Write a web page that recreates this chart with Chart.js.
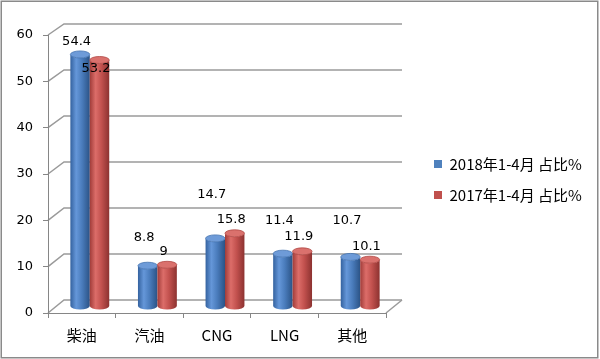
<!DOCTYPE html>
<html><head><meta charset="utf-8">
<script src="https://cdn.jsdelivr.net/npm/chart.js@4"></script>
<style>html,body{margin:0;padding:0;background:#fff;}#wrap{width:600px;height:359px;}</style>
</head><body><div id="wrap"><canvas id="c" width="600" height="359"></canvas></div>
<script>
const categories = ['柴油', '汽油', 'CNG', 'LNG', '其他'];
const series2018 = [54.4, 8.8, 14.7, 11.4, 10.7];
const series2017 = [53.2, 9, 15.8, 11.9, 10.1];
const seriesNames = ['2018年1-4月 占比%', '2017年1-4月 占比%'];
const yTicks = [0, 10, 20, 30, 40, 50, 60];
const labelLift2018 = [19, 35, 50, 40, 43];
const labelLift2017 = [-2, 20, 20, 21, 20];

const DEPTH_X = 16, DEPTH_Y = 13;
const palettes = [
  {edge:'#34629f', light:'#6597d9', mid:'#4a7cbc', dark:'#2b5386', top:'#6e9bd8', topEdge:'#4272b0'},
  {edge:'#a13c39', light:'#dc6d69', mid:'#c2514e', dark:'#8c3230', top:'#da716d', topEdge:'#b04643'}
];
const lifts = [labelLift2018, labelLift2017];

function backY(y, v) { return y.getPixelForValue(v) - DEPTH_Y + 2 * v / 60; }

function drawCylinder(ctx, cx, yTop, yBase, w, pal) {
  const rx = w / 2, ry = 3.5;
  const g = ctx.createLinearGradient(cx - rx, 0, cx + rx, 0);
  g.addColorStop(0, pal.edge); g.addColorStop(0.3, pal.light);
  g.addColorStop(0.6, pal.mid); g.addColorStop(1, pal.dark);
  ctx.beginPath();
  ctx.moveTo(cx - rx, yTop);
  ctx.lineTo(cx - rx, yBase);
  ctx.ellipse(cx, yBase, rx, ry, 0, Math.PI, 0, true);
  ctx.lineTo(cx + rx, yTop);
  ctx.ellipse(cx, yTop, rx, ry, 0, 0, Math.PI, false);
  ctx.closePath();
  ctx.fillStyle = g; ctx.fill();
  ctx.beginPath();
  ctx.ellipse(cx, yTop, rx, ry, 0, 0, 2 * Math.PI);
  ctx.fillStyle = pal.top; ctx.fill();
  ctx.strokeStyle = pal.topEdge; ctx.lineWidth = 0.8; ctx.stroke();
}

const wallPlugin = {
  id: 'wall',
  beforeDraw(chart) {
    const {ctx, chartArea: a} = chart;
    const y = chart.scales.y;
    ctx.save();
    ctx.strokeStyle = '#8a8a8a'; ctx.lineWidth = 1.5;
    ctx.strokeRect(1.25, 1.25, 596.5, 356.5);
    ctx.strokeStyle = '#9a9a9a'; ctx.lineWidth = 1.5;
    yTicks.forEach(v => {
      const yf = y.getPixelForValue(v), yb = backY(y, v);
      ctx.beginPath();
      ctx.moveTo(a.left, yf);
      ctx.lineTo(a.left + DEPTH_X, yb);
      ctx.lineTo(a.right + DEPTH_X, yb);
      ctx.stroke();
    });
    ctx.beginPath();
    ctx.moveTo(a.right, y.getPixelForValue(0));
    ctx.lineTo(a.right + DEPTH_X, backY(y, 0));
    ctx.stroke();
    ctx.restore();
  }
};

const cylPlugin = {
  id: 'cyl',
  beforeDatasetsDraw(chart) {
    const ctx = chart.ctx;
    ctx.save();
    const n = chart.data.labels.length;
    for (let i = 0; i < n; i++) {
      chart.data.datasets.forEach((ds, di) => {
        const el = chart.getDatasetMeta(di).data[i];
        const p = el.getProps(['x', 'y', 'base', 'width'], true);
        drawCylinder(ctx, p.x + DEPTH_X / 2, p.y - DEPTH_Y / 2, p.base - DEPTH_Y / 2, p.width, palettes[di]);
      });
    }
    ctx.font = '13px "DejaVu Sans"';
    ctx.fillStyle = '#000';
    ctx.textAlign = 'center';
    ctx.textBaseline = 'middle';
    chart.data.datasets.forEach((ds, di) => {
      chart.getDatasetMeta(di).data.forEach((el, i) => {
        const p = el.getProps(['x', 'y'], true);
        ctx.fillText(String(ds.data[i]), p.x + DEPTH_X / 2 - 3.5, p.y - lifts[di][i]);
      });
    });
    ctx.restore();
    return false;
  }
};

const mctx = document.createElement('canvas').getContext('2d');
mctx.font = "15px 'Noto Sans CJK SC'";
const legendTextW = Math.max(...seriesNames.map(s => mctx.measureText(s).width));
const LEGEND_LEFT = 420;
const legendW = 16 + 8 + 7.5 + legendTextW + 8;
const padRight = Math.max(0, 600 - LEGEND_LEFT - legendW);

new Chart(document.getElementById('c'), {
  type: 'bar',
  data: {
    labels: categories,
    datasets: [
      {label: seriesNames[0], data: series2018, backgroundColor: '#4f81bd', borderWidth: 0},
      {label: seriesNames[1], data: series2017, backgroundColor: '#c0504d', borderWidth: 0}
    ]
  },
  options: {
    responsive: false,
    animation: false,
    events: [],
    layout: {padding: {left: 0, top: 0, right: padRight, bottom: 0}},
    datasets: {bar: {categoryPercentage: 0.575, barPercentage: 1.0}},
    scales: {
      x: {
        grid: {drawOnChartArea: false, tickLength: 5, color: '#868686', offset: true},
        border: {display: true, color: '#868686'},
        ticks: {color: '#000', font: {family: "'Noto Sans CJK SC'", size: 15}, padding: 8, maxRotation: 0},
        afterFit: s => { s.height = 46; }
      },
      x2: {
        type: 'category', position: 'top',
        grid: {display: false}, ticks: {display: false}, border: {display: false},
        afterFit: s => { s.height = 35; }
      },
      y: {
        min: 0, max: 60,
        ticks: {stepSize: 10, color: '#000', font: {family: "'DejaVu Sans'", size: 13}, padding: 10},
        grid: {drawOnChartArea: false, tickLength: 5, color: '#868686'},
        border: {display: true, color: '#868686'},
        afterFit: s => { s.width = 48; }
      },
      y2: {
        type: 'linear', position: 'right',
        grid: {display: false}, ticks: {display: false}, border: {display: false},
        afterFit: s => { s.width = 32; }
      }
    },
    plugins: {
      legend: {
        position: 'right', align: 'center', maxWidth: 260,
        labels: {boxWidth: 8, boxHeight: 8, padding: 16, color: '#000',
          font: {family: "'Noto Sans CJK SC'", size: 15}}
      },
      tooltip: {enabled: false}
    }
  },
  plugins: [wallPlugin, cylPlugin]
});
</script>
</body></html>
